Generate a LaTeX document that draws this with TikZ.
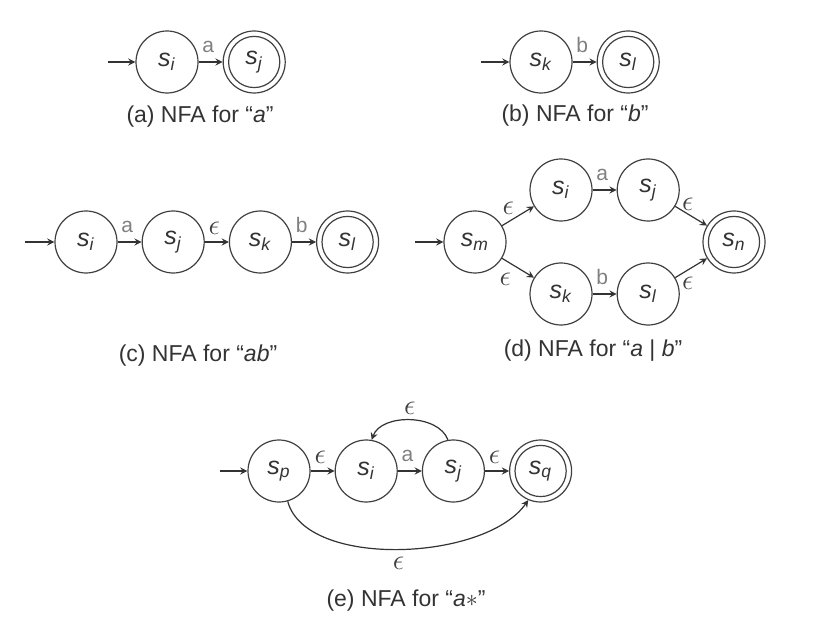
\documentclass[tikz,border=0pt]{standalone}
\usepackage{fontspec}
\setmainfont{Liberation Sans}
\usepackage{amsmath}
\usepackage{xcolor}
\usepackage{tikz}
\usetikzlibrary{arrows, positioning}

\newcommand{\sname}[1]{\textit{s}\textsubscript{\textit{#1}}}
\newcommand{\eps}{$\epsilon$}

\begin{document}
\begin{tikzpicture}[
    x=0.5pt, y=0.5pt,
    node distance=12pt,
    state/.style={circle, draw=black!75, line width=0.6pt, minimum size=31pt, inner sep=0pt, font=\fontsize{12.5}{14}\selectfont, text=black!80},
    accept/.style={state, path picture={\draw[black!75, line width=0.6pt] (path picture bounding box.center) circle (12.8pt);}},
    arrow/.style={->, >=stealth, draw=black!80, line width=0.6pt},
    lbl/.style={font=\fontsize{10.5}{12}\selectfont, text=black!50, inner sep=1pt},
    elbl/.style={font=\fontsize{14.4}{14}\selectfont, text=black!75, inner sep=1pt},
    caption/.style={font=\fontsize{11.5}{13}\selectfont, text=black!80}
]
    \useasboundingbox (0,0) rectangle (822,-624);

    % (a) NFA for a
    \coordinate (ina) at (108,-62);
    \node[state] (si1) at (167,-62) {\sname{i}};
    \node[accept, right=of si1] (sj1) {\sname{j}};
    \draw[arrow] (ina) -- (si1);
    \draw[arrow] (si1) -- node[lbl, pos=0.4, above=3.5pt] {a} (sj1);
    \node[caption] (capa) at (200,-117) {(a) NFA for ``\textit{a}''};

    % (b) NFA for b
    \coordinate (inb) at (481,-62);
    \node[state] (sk2) at (541,-62) {\sname{k}};
    \node[accept, right=of sk2] (sl2) {\sname{l}};
    \draw[arrow] (inb) -- (sk2);
    \draw[arrow] (sk2) -- node[lbl, pos=0.4, above=3.5pt] {b} (sl2);
    \node[caption] (capb) at (575,-116) {(b) NFA for ``\textit{b}''};

    % (c) NFA for ab
    \coordinate (inc) at (25,-242);
    \node[state] (si3) at (86,-242) {\sname{i}};
    \node[state, right=of si3] (sj3) {\sname{j}};
    \node[state, right=of sj3] (sk3) {\sname{k}};
    \node[accept, right=of sk3] (sl3) {\sname{l}};
    \draw[arrow] (inc) -- (si3);
    \draw[arrow] (si3) -- node[lbl, pos=0.4, above=3.5pt] {a} (sj3);
    \draw[arrow] (sj3) -- node[elbl, pos=0.4, above=2.5pt] {\eps} (sk3);
    \draw[arrow] (sk3) -- node[lbl, pos=0.4, above=3.5pt] {b} (sl3);
    \node[caption] (capc) at (198,-356) {(c) NFA for ``\textit{ab}''};

    % (d) NFA for a | b
    \coordinate (ind) at (415,-242);
    \node[state] (sm4) at (475,-242) {\sname{m}};
    \node[state] (si4) at (561,-190) {\sname{i}};
    \node[state, right=of si4] (sj4) {\sname{j}};
    \node[state] (sk4) at (561,-294) {\sname{k}};
    \node[state, right=of sk4] (sl4) {\sname{l}};
    \node[accept] (sn4) at (734,-242) {\sname{n}};
    \draw[arrow] (ind) -- (sm4);
    \draw[arrow] (sm4) -- node[elbl, pos=0.2, above=2.5pt] {\eps} (si4);
    \draw[arrow] (sm4) -- node[elbl, pos=0.1, below=5pt] {\eps} (sk4);
    \draw[arrow] (si4) -- node[lbl, pos=0.4, above=3.5pt] {a} (sj4);
    \draw[arrow] (sk4) -- node[lbl, pos=0.4, above=3.5pt] {b} (sl4);
    \draw[arrow] (sj4) -- node[elbl, pos=0.4, above=0.5pt] {\eps} (sn4);
    \draw[arrow] (sl4) -- node[elbl, pos=0.4, below=2.5pt] {\eps} (sn4);
    \node[caption] (capd) at (593,-351) {(d) NFA for ``\textit{a} | \textit{b}''};

    % (e) NFA for a*
    \coordinate (ine) at (220,-471);
    \node[state] (sp5) at (279,-471) {\sname{p}};
    \node[state, right=of sp5] (si5) {\sname{i}};
    \node[state, right=of si5] (sj5) {\sname{j}};
    \node[accept, right=of sj5] (sq5) {\sname{q}};
    \draw[arrow] (ine) -- (sp5);
    \draw[arrow] (sp5) -- node[elbl, pos=0.4, above=2.5pt] {\eps} (si5);
    \draw[arrow] (si5) -- node[lbl, pos=0.4, above=3.5pt] {a} (sj5);
    \draw[arrow] (sj5) -- node[elbl, pos=0.4, above=2.5pt] {\eps} (sq5);
    \draw[arrow] (sj5.100) .. controls +(110:28) and +(70:28) .. node[elbl, above=1.5pt] {\eps} (si5.80);
    \draw[arrow] (sp5.-74) .. controls +(-75:70) and +(-125:75) .. node[elbl, below=2.5pt] {\eps} (sq5.-113);
    \node[caption] (cape) at (406,-601) {(e) NFA for ``\textit{a}$*$''};
\end{tikzpicture}
\end{document}
